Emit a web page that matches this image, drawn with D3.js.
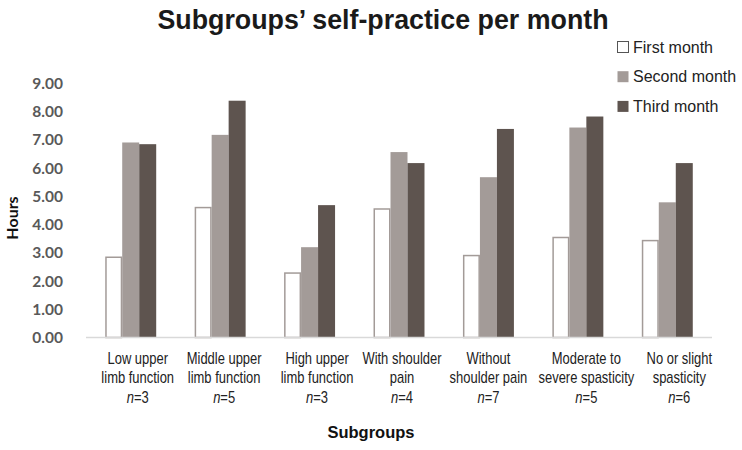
<!DOCTYPE html>
<html><head><meta charset="utf-8">
<script src="https://cdn.jsdelivr.net/npm/d3@7"></script>
<style>body{margin:0;background:#fff}</style>
</head><body>
<svg id="c" width="742" height="450"></svg>
<script>
const categories = [
  ["Low upper","limb function","3"],
  ["Middle upper","limb function","5"],
  ["High upper","limb function","3"],
  ["With shoulder","pain","4"],
  ["Without","shoulder pain","7"],
  ["Moderate to","severe spasticity","5"],
  ["No or slight","spasticity","6"]
];
const seriesNames = ["First month","Second month","Third month"];
const firstMonth  = [2.87, 4.63, 2.31, 4.58, 2.93, 3.57, 3.46];
const secondMonth = [6.91, 7.18, 3.20, 6.57, 5.68, 7.44, 4.79];
const thirdMonth  = [6.85, 8.39, 4.69, 6.18, 7.39, 7.83, 6.18];
const yTicks = [0,1,2,3,4,5,6,7,8,9];

const series = [firstMonth, secondMonth, thirdMonth];
const fills = ["#ffffff","#a39b98","#5e544f"];
const strokes = ["#a39b98","none","none"];
// layout: horizontal nudge of each category label (as placed in the original)
const labelNudge = [7, 4, 7.5, 3, 0, 8.5, 12];

const svg = d3.select("#c");
const x = d3.scaleBand().domain(d3.range(categories.length)).range([86,712]).paddingInner(0.43).paddingOuter(0.215);
const y = d3.scaleLinear().domain([0,9]).range([337.5,83.5]);
const xs = d3.scaleBand().domain(d3.range(3)).range([0,x.bandwidth()]);

// title
svg.append("text").attr("x",383).attr("y",29).attr("text-anchor","middle")
  .attr("font-family","Liberation Sans, Arial").attr("font-weight","bold").attr("font-size",26.8)
  .attr("fill","#1a1a1a").text("Subgroups’ self-practice per month");

// y axis labels
const yAxis = d3.axisLeft(y).tickValues(yTicks).tickFormat(d3.format(".2f")).tickSize(0).tickPadding(0);
const ya = svg.append("g").attr("transform","translate(63,0)").call(yAxis);
ya.select(".domain").remove();
ya.selectAll("text").attr("font-family","Lato, Open Sans, sans-serif").attr("font-weight","bold")
  .attr("font-size",15.5).attr("fill","#595959");

svg.append("text").attr("transform","translate(18,218) rotate(-90)").attr("text-anchor","middle")
  .attr("font-family","Lato, Open Sans, sans-serif").attr("font-weight","bold").attr("font-size",16)
  .attr("fill","#111").text("Hours");

// bars
const g = svg.append("g");
series.forEach((vals,si)=>{
  g.selectAll(".b"+si).data(vals).enter().append("rect")
    .attr("x",(d,i)=>x(i)+xs(si)+(si===0?0.75:0))
    .attr("y",d=>y(d)+(si===0?0.75:0))
    .attr("width",xs.bandwidth()-(si===0?1.5:0))
    .attr("height",d=>y(0)-y(d)-(si===0?0.75:0))
    .attr("fill",fills[si]).attr("stroke",strokes[si]).attr("stroke-width",si===0?1.5:0);
});

// baseline
svg.append("line").attr("x1",86).attr("x2",712).attr("y1",y(0)).attr("y2",y(0))
  .attr("stroke","#d9d9d9").attr("stroke-width",1.5);

// x labels (condensed)
const xa = svg.append("g");
categories.forEach((c,i)=>{
  const cx = x(i)+x.bandwidth()/2 + labelNudge[i];
  const t = xa.append("g").attr("transform",`translate(${cx},0) scale(0.81,1)`)
    .append("text").attr("text-anchor","middle")
    .attr("font-family","Liberation Sans, Arial, sans-serif")
    .attr("font-size",16).attr("fill","#222");
  t.append("tspan").attr("x",0).attr("y",364).text(c[0]);
  t.append("tspan").attr("x",0).attr("y",383.3).text(c[1]);
  const t3 = t.append("tspan").attr("x",0).attr("y",402.7);
  t3.append("tspan").attr("font-style","italic").text("n");
  t3.append("tspan").text("="+c[2]);
});

svg.append("text").attr("x",371).attr("y",438).attr("text-anchor","middle")
  .attr("font-family","Liberation Sans, Arial").attr("font-weight","bold").attr("font-size",16.5)
  .attr("fill","#111").text("Subgroups");

// legend
const lg = svg.append("g");
seriesNames.forEach((n,i)=>{
  const cy = 47 + i*29.7;
  lg.append("rect").attr("x",617.5).attr("y",cy-5.5).attr("width",11).attr("height",11)
    .attr("fill",fills[i]).attr("stroke",i===0?"#555":"none").attr("stroke-width",1);
  lg.append("text").attr("x",633).attr("y",cy+5.5)
    .attr("font-family","Liberation Sans, Arial").attr("font-size",16).attr("fill","#222").text(n);
});
</script>
</body></html>
